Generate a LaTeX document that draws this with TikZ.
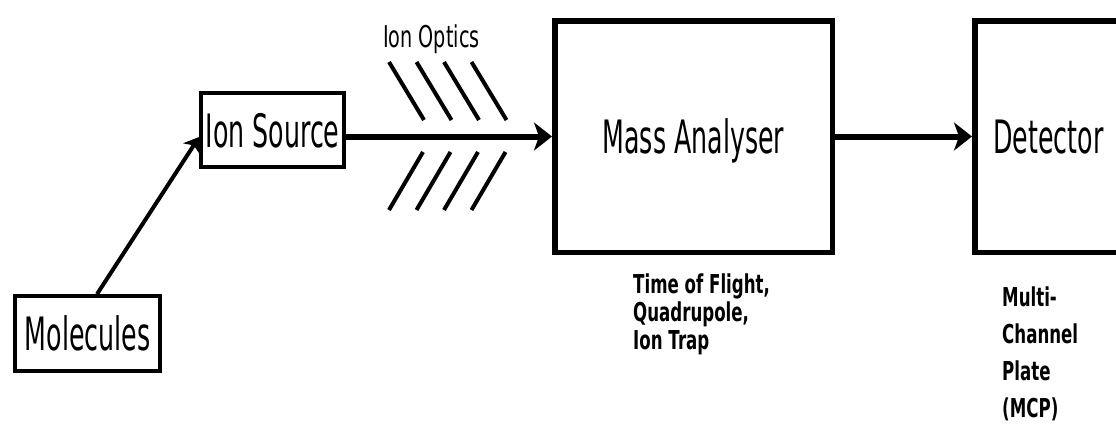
\documentclass[tikz,border=0pt]{standalone}
\usepackage{fontspec}
\newfontfamily\labelfont[FakeStretch=0.55]{DejaVu Sans}
\newfontfamily\notefont[FakeStretch=0.64]{DejaVu Sans}
\usetikzlibrary{arrows.meta}
\tikzset{
    box/.style={draw, line width=5.5pt, inner sep=0pt, text depth=0pt,
                font=\labelfont\fontsize{46}{50}\selectfont},
    small/.style={box, line width=3.7pt},
    flow/.style={-{Stealth[length=18pt, width=28pt, inset=5pt]}, line width=6pt},
    feed/.style={-{Stealth[length=14pt, width=20pt, inset=4pt]}, line width=4pt},
    lens/.style={line width=4pt},
    tag/.style={anchor=base west, inner sep=0pt,
                font=\notefont\fontsize{30}{30}\selectfont},
    note/.style={anchor=north west, inner sep=0pt, align=left,
                 font=\notefont\bfseries\fontsize{26}{28}\selectfont},
}

\begin{document}
\begin{tikzpicture}[x=1pt, y=-1pt]

    \useasboundingbox (0,0) rectangle (1116,423);
    \node[small, minimum width=145pt, minimum height=75pt] (molecules) at (87.5,333.5) {Molecules};
    \node[small, minimum width=143pt, minimum height=74pt] (source) at (272.5,130) {Ion Source};
    \node[box, minimum width=277.5pt, minimum height=231.5pt] (analyser) at (693.5,136.5) {Mass Analyser};
    \node[box, minimum width=147.5pt, minimum height=231.5pt] (detector) at (1048.5,136.5) {Detector};
    \node[tag] (optics) at (383,47) {Ion Optics};
    \node[note] (types) at (633,274) {Time of Flight,\\Quadrupole,\\Ion Trap};
    \node[note, font=\notefont\bfseries\fontsize{26}{37}\selectfont] (plate) at (1002,287) {Multi-\\Channel\\Plate\\(MCP)};
    \foreach \dx in {0,27.5,55,82.5} {
        \draw[lens] (389+\dx,62) -- (424+\dx,120);
        \draw[lens] (389+\dx,210) -- (423+\dx,152);
    }
    \draw[feed] ([xshift=9.5pt]molecules.north) -- ([yshift=-7pt]source.west);
    \draw[flow] (source.east |- analyser.west) -- (analyser.west);
    \draw[flow] (analyser) -- (detector);

\end{tikzpicture}
\end{document}
